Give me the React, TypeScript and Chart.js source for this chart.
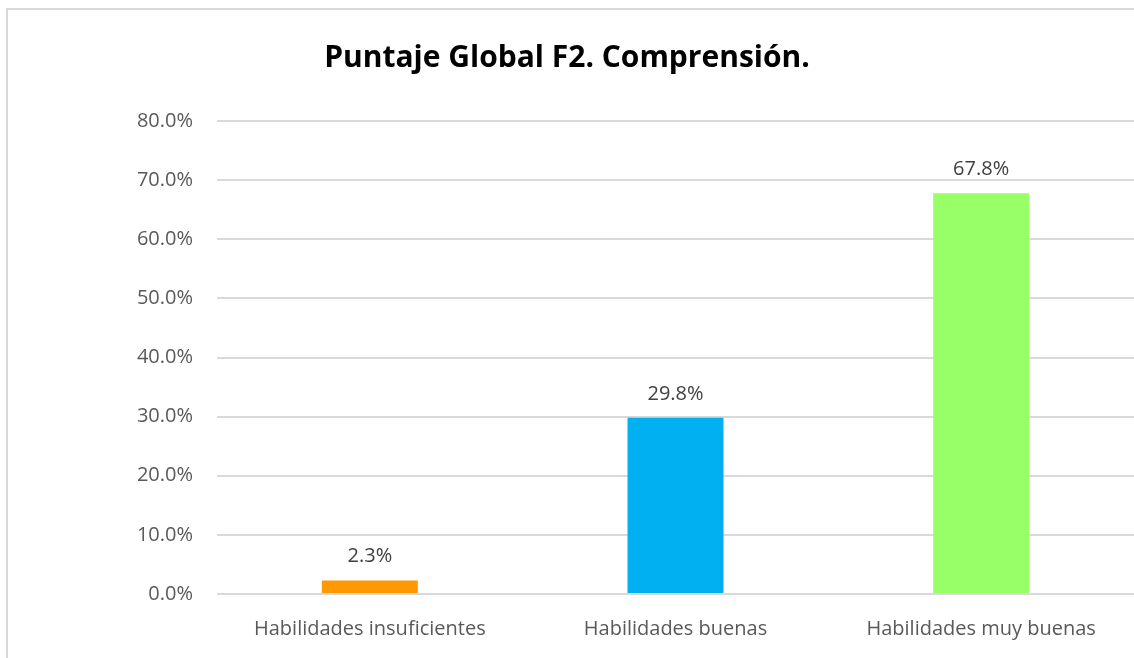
import React, { useEffect, useRef } from "react";
import { Chart, registerables } from "chart.js";

Chart.register(...registerables);

const TITLE = "Puntaje Global F2. Comprensión.";
const categories = ["Habilidades insuficientes", "Habilidades buenas", "Habilidades muy buenas"];
const values = [2.3, 29.8, 67.8];
const barColors = ["#FF9900", "#00B0F0", "#99FF66"];
const yMin = 0;
const yMax = 80;
const yStep = 10;

const FONT = "'Open Sans', 'Noto Sans', sans-serif";

const valueLabels = {
  id: "valueLabels",
  afterDatasetsDraw(chart: any) {
    const ctx = chart.ctx;
    const meta = chart.getDatasetMeta(0);
    ctx.save();
    ctx.font = `20px ${FONT}`;
    ctx.fillStyle = "#404040";
    ctx.textAlign = "center";
    ctx.textBaseline = "alphabetic";
    meta.data.forEach((bar: any, i: number) => {
      ctx.fillText(values[i].toFixed(1) + "%", bar.x, bar.y - 18);
    });
    ctx.restore();
  },
};

export default function App() {
  const ref = useRef<HTMLCanvasElement>(null);
  useEffect(() => {
    document.body.style.margin = "0";
    const chart = new Chart(ref.current as HTMLCanvasElement, {
      type: "bar",
      data: {
        labels: categories,
        datasets: [
          {
            data: values,
            backgroundColor: barColors,
            borderWidth: 0,
            barPercentage: 0.314,
            categoryPercentage: 1,
          },
        ],
      },
      options: {
        responsive: false,
        animation: false,
        layout: { padding: { top: 0, right: 0, bottom: 0, left: 0 } },
        plugins: {
          legend: { display: false },
          tooltip: { enabled: false },
          title: {
            display: true,
            text: TITLE,
            color: "#000000",
            font: { family: FONT, size: 30, weight: "bold", lineHeight: 1.2 },
            padding: { top: 40, bottom: 45 },
          },
        },
        scales: {
          x: {
            grid: { display: false },
            border: { display: false },
            ticks: {
              color: "#595959",
              font: { family: FONT, size: 20 },
              padding: 15,
              maxRotation: 0,
            },
            afterFit(scale: any) {
              scale.height = 64;
            },
          },
          y: {
            min: yMin,
            max: yMax,
            grid: { color: "#d9d9d9", lineWidth: 2, drawTicks: false },
            border: { display: false },
            ticks: {
              stepSize: yStep,
              color: "#595959",
              font: { family: FONT, size: 20 },
              padding: 24,
              callback: (v: any) => Number(v).toFixed(1) + "%",
            },
            afterFit(scale: any) {
              scale.width = 217;
            },
          },
        },
      },
      plugins: [valueLabels],
    });
    return () => chart.destroy();
  }, []);
  return (
    <div style={{ position: "relative", width: 1134, height: 658, background: "#fff", overflow: "hidden" }}>
      <canvas ref={ref} width={1134} height={658} style={{ position: "absolute", left: 0, top: 0 }} />
      <div
        style={{
          position: "absolute",
          left: 6,
          top: 8,
          width: 1200,
          height: 700,
          borderLeft: "2px solid #d9d9d9",
          borderTop: "2px solid #d9d9d9",
          pointerEvents: "none",
        }}
      />
    </div>
  );
}
